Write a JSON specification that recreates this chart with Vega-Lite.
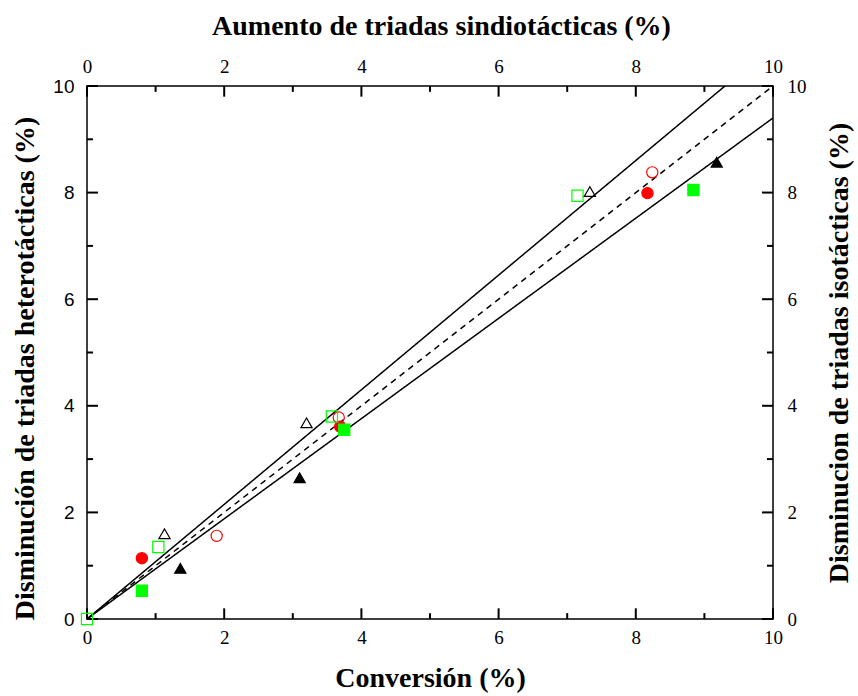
{
  "$schema": "https://vega.github.io/schema/vega-lite/v6.json",
  "width": 686,
  "height": 533,
  "autosize": "none",
  "padding": {"left": 87, "top": 86, "right": 85, "bottom": 77},
  "background": "white",
  "config": {"view": {"stroke": "black", "strokeWidth": 1.5}, "axis": {"ticks": false, "tickSize": 0, "labelFlush": false, "domain": false, "grid": false, "labelColor": "black", "titleColor": "black", "titleFont": "Liberation Serif", "titleFontSize": 28, "titleFontWeight": "bold", "labelFontSize": 19, "labelFont": "Liberation Serif"}},
  "datasets": {
    "lines": [
      {"x": 0, "y": 0, "line": "upper"}, {"x": 9.3, "y": 10, "line": "upper"},
      {"x": 0, "y": 0, "line": "lower"}, {"x": 10, "y": 9.4, "line": "lower"},
      {"x": 0, "y": 0, "line": "mid"}, {"x": 10, "y": 10, "line": "mid"}
    ],
    "major": [{"v": 0}, {"v": 2}, {"v": 4}, {"v": 6}, {"v": 8}, {"v": 10}],
    "minor": [{"v": 1}, {"v": 3}, {"v": 5}, {"v": 7}, {"v": 9}],
    "points": [
      {"x": 0.80, "y": 1.14, "s": "A"},
      {"x": 3.69, "y": 3.61, "s": "A"},
      {"x": 8.17, "y": 7.99, "s": "A"},
      {"x": 1.89, "y": 1.56, "s": "B"},
      {"x": 3.67, "y": 3.78, "s": "B"},
      {"x": 8.24, "y": 8.38, "s": "B"},
      {"x": 0.80, "y": 0.53, "s": "C"},
      {"x": 3.75, "y": 3.55, "s": "C"},
      {"x": 8.84, "y": 8.05, "s": "C"},
      {"x": 0.0, "y": 0.0, "s": "D"},
      {"x": 1.04, "y": 1.35, "s": "D"},
      {"x": 3.57, "y": 3.80, "s": "D"},
      {"x": 7.15, "y": 7.94, "s": "D"},
      {"x": 1.36, "y": 0.95, "s": "E"},
      {"x": 3.10, "y": 2.65, "s": "E"},
      {"x": 9.18, "y": 8.57, "s": "E"},
      {"x": 1.13, "y": 1.60, "s": "F"},
      {"x": 3.20, "y": 3.68, "s": "F"},
      {"x": 7.33, "y": 8.02, "s": "F"}
    ]
  },
  "layer": [
    {
      "encoding": {
        "x": {"type": "quantitative",
          "scale": {"domain": [0, 10], "nice": false, "zero": false},
          "axis": {"orient": "bottom", "values": [0,2,4,6,8,10], "labelPadding": 9,
            "title": "Conversión (%)", "titlePadding": 17}},
        "y": {"type": "quantitative",
          "scale": {"domain": [0, 10], "nice": false, "zero": false},
          "axis": {"orient": "left", "values": [0,2,4,6,8,10], "labelFont": "Liberation Sans", "labelPadding": 13,
            "title": "Disminución de triadas heterotácticas (%)", "titleY": 282, "titlePadding": 13}}
      },
      "layer": [
        {
          "data": {"name": "lines"},
          "mark": {"type": "line", "color": "black", "strokeWidth": 1.5, "clip": true},
          "encoding": {
            "x": {"field": "x", "type": "quantitative"},
            "y": {"field": "y", "type": "quantitative"},
            "detail": {"field": "line", "type": "nominal"},
            "strokeDash": {"field": "line", "type": "nominal",
              "scale": {"domain": ["upper", "lower", "mid"], "range": [[1, 0], [1, 0], [6, 5]]}, "legend": null}
          }
        },
        {"data": {"name": "major"}, "mark": {"type": "rule", "color": "black", "strokeWidth": 2},
          "encoding": {"x": {"field": "v", "type": "quantitative"}, "y": {"datum": 0, "type": "quantitative"}, "y2": {"datum": 0.2}}},
        {"data": {"name": "minor"}, "mark": {"type": "rule", "color": "black", "strokeWidth": 2},
          "encoding": {"x": {"field": "v", "type": "quantitative"}, "y": {"datum": 0, "type": "quantitative"}, "y2": {"datum": 0.11}}},
        {"data": {"name": "major"}, "mark": {"type": "rule", "color": "black", "strokeWidth": 2},
          "encoding": {"x": {"field": "v", "type": "quantitative"}, "y": {"datum": 10, "type": "quantitative"}, "y2": {"datum": 9.8}}},
        {"data": {"name": "minor"}, "mark": {"type": "rule", "color": "black", "strokeWidth": 2},
          "encoding": {"x": {"field": "v", "type": "quantitative"}, "y": {"datum": 10, "type": "quantitative"}, "y2": {"datum": 9.89}}},
        {"data": {"name": "major"}, "mark": {"type": "rule", "color": "black", "strokeWidth": 2},
          "encoding": {"y": {"field": "v", "type": "quantitative"}, "x": {"datum": 0, "type": "quantitative"}, "x2": {"datum": 0.16}}},
        {"data": {"name": "minor"}, "mark": {"type": "rule", "color": "black", "strokeWidth": 2},
          "encoding": {"y": {"field": "v", "type": "quantitative"}, "x": {"datum": 0, "type": "quantitative"}, "x2": {"datum": 0.088}}},
        {"data": {"name": "major"}, "mark": {"type": "rule", "color": "black", "strokeWidth": 2},
          "encoding": {"y": {"field": "v", "type": "quantitative"}, "x": {"datum": 10, "type": "quantitative"}, "x2": {"datum": 9.84}}},
        {"data": {"name": "minor"}, "mark": {"type": "rule", "color": "black", "strokeWidth": 2},
          "encoding": {"y": {"field": "v", "type": "quantitative"}, "x": {"datum": 10, "type": "quantitative"}, "x2": {"datum": 9.912}}}
      ]
    },
    {
      "data": {"name": "points"},
      "mark": {"type": "point", "strokeWidth": 1.2, "opacity": 1},
      "encoding": {
        "x": {"field": "x", "type": "quantitative",
          "scale": {"domain": [0, 10], "nice": false, "zero": false},
          "axis": {"orient": "top", "values": [0,2,4,6,8,10], "labelPadding": 10,
            "title": "Aumento de triadas sindiotácticas (%)", "titleX": 354, "titlePadding": 17}},
        "y": {"field": "y", "type": "quantitative",
          "scale": {"domain": [0, 10], "nice": false, "zero": false},
          "axis": {"orient": "right", "values": [0,2,4,6,8,10], "labelPadding": 14,
            "title": "Disminucion de triadas isotácticas (%)", "titleAngle": 270, "titlePadding": 47}},
        "shape": {"field": "s", "type": "nominal", "legend": null,
          "scale": {"domain": ["A","B","C","D","E","F"], "range": ["circle","circle","square","square","triangle-up","triangle-up"]}},
        "size": {"field": "s", "type": "nominal", "legend": null,
          "scale": {"domain": ["A","B","C","D","E","F"], "range": [125, 125, 120, 120, 165, 165]}},
        "stroke": {"field": "s", "type": "nominal", "legend": null,
          "scale": {"domain": ["A","B","C","D","E","F"], "range": ["#ff0000","#ff0000","#00ff00","#00ff00","#000000","#000000"]}},
        "fill": {"field": "s", "type": "nominal", "legend": null,
          "scale": {"domain": ["A","B","C","D","E","F"], "range": ["#ff0000","transparent","#00ff00","transparent","#000000","transparent"]}}
      }
    }
  ],
  "resolve": {"scale": {"x": "independent", "y": "independent"}, "axis": {"x": "independent", "y": "independent"}}
}
